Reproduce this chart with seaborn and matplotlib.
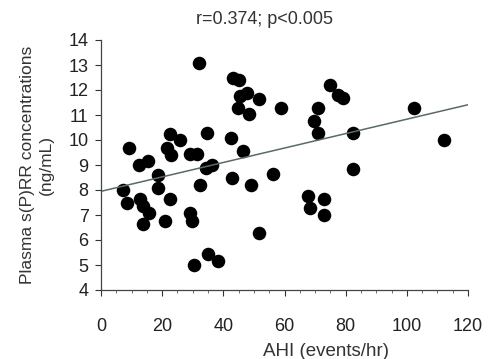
import numpy as np
import pandas as pd
import matplotlib
matplotlib.use("Agg")
import matplotlib.pyplot as plt
import seaborn as sns
from matplotlib.ticker import MultipleLocator

ahi = [7.2, 8.5, 9.2, 12.5, 15.5, 12.8, 13.8, 15.8, 13.8, 18.6, 18.6, 21.0, 22.5,
       22.5, 25.8, 21.6, 23.0, 29.2, 31.5, 32.0, 34.6, 34.2, 36.3, 32.4, 29.1, 29.7,
       30.5, 35.0, 38.2, 43.0, 45.0, 47.7, 45.5, 51.7, 44.8, 48.4, 58.8, 42.5, 46.5,
       42.8, 49.0, 56.2, 51.5, 67.8, 68.2, 72.9, 72.9, 74.8, 77.5, 79.0, 70.8, 69.5,
       71.0, 82.4, 82.4, 102.3, 112.0]
sprr = [8.0, 7.5, 9.7, 9.0, 9.15, 7.65, 7.35, 7.1, 6.65, 8.6, 8.1, 6.75, 7.65,
        10.25, 10.0, 9.7, 9.4, 9.45, 9.45, 13.1, 10.3, 8.9, 9.0, 8.2, 7.1, 6.75,
        5.0, 5.45, 5.15, 12.5, 12.4, 11.9, 11.75, 11.65, 11.3, 11.05, 11.3, 10.1, 9.55,
        8.5, 8.2, 8.65, 6.3, 7.75, 7.3, 7.65, 7.0, 12.2, 11.8, 11.7, 11.3, 10.75,
        10.3, 10.3, 8.85, 11.3, 10.0]

title = "r=0.374; p<0.005"
xlabel = "AHI (events/hr)"
ylabel = "Plasma s(P)RR concentrations\n(ng/mL)"
xticks = [0, 20, 40, 60, 80, 100, 120]
yticks = list(range(4, 15))

df = pd.DataFrame({"AHI": ahi, "sPRR": sprr})

sns.set_style("ticks")
plt.rcParams["font.family"] = ["Liberation Sans", "DejaVu Sans"]

fig = plt.figure(figsize=(4.91, 3.59), dpi=100)
ax = fig.add_axes([101/491, 1 - 290/359, (468-101)/491, (290-40)/359])
ax.set_xlim(0, 120)
ax.set_ylim(4, 14)

sns.regplot(data=df, x="AHI", y="sPRR", ax=ax, ci=None, truncate=False,
            scatter_kws=dict(s=95, color="black", linewidths=0, alpha=1),
            line_kws=dict(color="#5a6b66", lw=1.1))

ax.set_xlim(0, 120)
ax.set_ylim(4, 14)
ax.set_xticks(xticks)
ax.set_yticks(yticks)
ax.xaxis.set_minor_locator(MultipleLocator(5))
ax.tick_params(axis="both", which="major", labelsize=13, length=4, width=0.8,
               colors="#333333", labelcolor="#222222")
ax.tick_params(axis="x", which="minor", length=2, width=0.6, colors="#555555")
ax.tick_params(axis="x", which="major", pad=16)
ax.tick_params(axis="y", which="major", pad=5)
for s in ["top", "right"]:
    ax.spines[s].set_visible(False)
for s in ["left", "bottom"]:
    ax.spines[s].set_color("#444444")
    ax.spines[s].set_linewidth(0.9)

ax.set_xlabel(xlabel, fontsize=13.5, color="#333333")
ax.set_ylabel(ylabel, fontsize=12.5, color="#333333", linespacing=1.25)
ax.xaxis.set_label_coords((326-101)/(468-101), -(343-290)/250)
ax.yaxis.set_label_coords(-(101-37)/(468-101), 0.5)
ax.yaxis.label.set_va("center")
fig.text(264/491, 1 - 20/359, title, ha="center", va="center", fontsize=13, color="#333333")

fig.savefig("out.png", dpi=100)
